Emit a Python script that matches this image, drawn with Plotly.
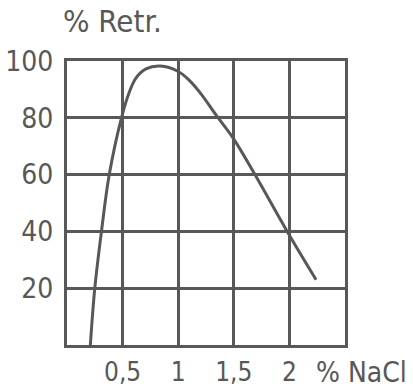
import plotly.graph_objects as go

# Data
nacl = [0.21, 0.25, 0.31, 0.38, 0.49, 0.56, 0.62, 0.71, 0.84, 1.00, 1.10, 1.20, 1.34, 1.50, 1.69, 1.98, 2.24]
retr = [0, 20, 40, 60, 80, 89, 94, 97.2, 98.2, 96.3, 93.2, 88.7, 81, 72.5, 60, 40, 23]

x_tickvals = [0.5, 1, 1.5, 2]
x_ticktext = ["0,5", "1", "1,5", "2"]
y_tickvals = [20, 40, 60, 80, 100]
y_ticktext = ["20", "40", "60", "80", "100"]

INK = "#585858"
FONT = "DejaVu Sans Condensed, DejaVu Sans, sans-serif"

fig = go.Figure()
fig.add_trace(go.Scatter(
    x=nacl, y=retr, mode="lines",
    line=dict(color=INK, width=3, shape="spline", smoothing=1.0),
    showlegend=False, hoverinfo="skip",
))

fig.update_layout(
    width=413, height=390,
    margin=dict(l=67, r=68, t=61, b=45),
    paper_bgcolor="white", plot_bgcolor="white",
    font=dict(family=FONT, color=INK),
    xaxis=dict(
        range=[0, 2.5], tickvals=x_tickvals, ticktext=x_ticktext,
        showgrid=True, gridcolor=INK, gridwidth=3,
        showline=True, linecolor=INK, linewidth=3, mirror=True,
        zeroline=False, ticks="", automargin=False,
        tickfont=dict(size=26, color=INK, family=FONT),
        ticklabelstandoff=2,
    ),
    yaxis=dict(
        range=[0, 100], tickvals=y_tickvals, ticktext=y_ticktext,
        showgrid=True, gridcolor=INK, gridwidth=3,
        showline=True, linecolor=INK, linewidth=3, mirror=True,
        zeroline=False, ticks="", automargin=False,
        tickfont=dict(size=28, color=INK, family=FONT),
        ticklabelstandoff=5,
    ),
    annotations=[
        dict(text="% Retr.", xref="paper", yref="paper", x=-0.022, y=1.0,
             xanchor="left", yanchor="middle", yshift=40, showarrow=False,
             font=dict(size=31, color=INK, family=FONT)),
        dict(text="% NaCl", xref="paper", yref="paper", x=0.89, y=0,
             xanchor="left", yanchor="middle", yshift=-27, showarrow=False,
             font=dict(size=28, color=INK, family=FONT)),
    ],
)

fig.write_html("out.html", config={"displayModeBar": False},
               post_script="document.body.style.margin='0';")
